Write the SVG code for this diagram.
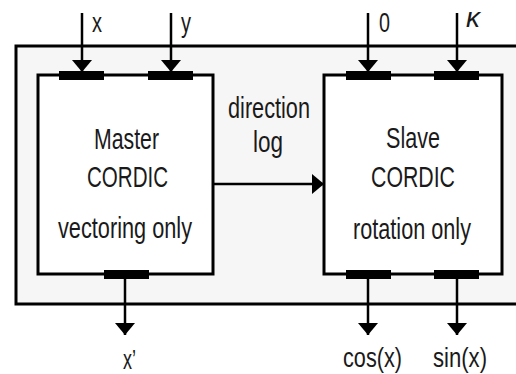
<svg xmlns="http://www.w3.org/2000/svg" width="516" height="374" viewBox="0 0 516 374">
<defs>
<style>
.box{fill:#ffffff;stroke:#000;stroke-width:3}
.port{fill:#000}
.ln{stroke:#000;stroke-width:2.5;fill:none}
.t{font-family:"Liberation Sans",Arial,sans-serif;font-size:29px;fill:#1a1a1a;text-anchor:start}
.s{font-size:27px}
</style>
<marker id="ah" viewBox="0 0 12 20" refX="12" refY="10" markerWidth="12" markerHeight="20" markerUnits="userSpaceOnUse" orient="auto">
<path d="M0,0 L12,10 L0,20 Z" fill="#000"/>
</marker>
</defs>
<rect x="0" y="0" width="516" height="374" fill="#ffffff"/>
<g id="outer">
<rect x="16" y="46" width="520" height="258" fill="#f6f6f6" stroke="#000" stroke-width="3"/>
</g>
<g id="master">
<rect class="box" x="38" y="75" width="175" height="199"/>
<rect class="port" x="59" y="71" width="45" height="9"/>
<rect class="port" x="148" y="71" width="45" height="9"/>
<rect class="port" x="104" y="270" width="45" height="9"/>
<text class="t" x="94" y="149" textLength="65" lengthAdjust="spacingAndGlyphs">Master</text>
<text class="t" x="87" y="187" textLength="81" lengthAdjust="spacingAndGlyphs">CORDIC</text>
<text class="t" x="58" y="238" textLength="134" lengthAdjust="spacingAndGlyphs">vectoring only</text>
</g>
<g id="slave">
<rect class="box" x="324" y="75" width="178" height="199"/>
<rect class="port" x="346" y="71" width="45" height="9"/>
<rect class="port" x="434" y="71" width="45" height="9"/>
<rect class="port" x="346" y="270" width="45" height="9"/>
<rect class="port" x="434" y="270" width="45" height="9"/>
<text class="t" x="386" y="148" textLength="54" lengthAdjust="spacingAndGlyphs">Slave</text>
<text class="t" x="371" y="187" textLength="84" lengthAdjust="spacingAndGlyphs">CORDIC</text>
<text class="t" x="353" y="239" textLength="118" lengthAdjust="spacingAndGlyphs">rotation only</text>
</g>
<g id="connectors">
<line class="ln" x1="82" y1="13" x2="82" y2="72" marker-end="url(#ah)"/>
<line class="ln" x1="171" y1="13" x2="171" y2="72" marker-end="url(#ah)"/>
<line class="ln" x1="368" y1="13" x2="368" y2="72" marker-end="url(#ah)"/>
<line class="ln" x1="457" y1="13" x2="457" y2="72" marker-end="url(#ah)"/>
<line class="ln" x1="125" y1="279" x2="125" y2="335" marker-end="url(#ah)"/>
<line class="ln" x1="368" y1="279" x2="368" y2="335" marker-end="url(#ah)"/>
<line class="ln" x1="457" y1="279" x2="457" y2="335" marker-end="url(#ah)"/>
<line class="ln" x1="213" y1="184" x2="324" y2="184" marker-end="url(#ah)"/>
</g>
<g id="labels">
<text class="t s" x="92" y="32" textLength="10" lengthAdjust="spacingAndGlyphs">x</text>
<text class="t s" x="181" y="32" textLength="10" lengthAdjust="spacingAndGlyphs">y</text>
<text class="t s" x="379" y="32" textLength="11" lengthAdjust="spacingAndGlyphs">0</text>
<text class="t s" x="466" y="27" font-style="italic" textLength="14" lengthAdjust="spacingAndGlyphs">κ</text>
<text class="t" x="228" y="118" textLength="82" lengthAdjust="spacingAndGlyphs">direction</text>
<text class="t" x="253" y="152" textLength="30" lengthAdjust="spacingAndGlyphs">log</text>
<text class="t s" x="123" y="369" textLength="13" lengthAdjust="spacingAndGlyphs">x’</text>
<text class="t s" x="343" y="367" textLength="59" lengthAdjust="spacingAndGlyphs">cos(x)</text>
<text class="t s" x="433" y="367" textLength="54" lengthAdjust="spacingAndGlyphs">sin(x)</text>
</g>
</svg>
